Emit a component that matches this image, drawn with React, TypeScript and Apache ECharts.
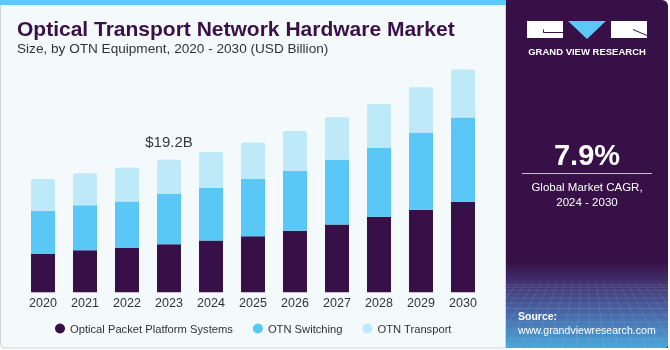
import React, { useEffect, useRef } from "react";
import * as echarts from "echarts";

const years = ["2020", "2021", "2022", "2023", "2024", "2025", "2026", "2027", "2028", "2029", "2030"];
const packetPlatform = [5.6, 6.1, 6.4, 6.95, 7.5, 8.1, 8.9, 9.8, 10.95, 11.95, 13.1];
const otnSwitching = [6.2, 6.5, 6.75, 7.3, 7.6, 8.3, 8.7, 9.4, 9.95, 11.1, 12.2];
const otnTransport = [4.6, 4.65, 4.9, 4.95, 5.2, 5.3, 5.75, 6.15, 6.35, 6.65, 6.95];
const seriesNames = ["Optical Packet Platform Systems", "OTN Switching", "OTN Transport"];
const labelIndex = 3;

const DARK = "#371047";
const BLUE = "#5ac8f6";
const LIGHT = "#bde9f9";
const FONT = "'Liberation Sans', Arial, sans-serif";

function gridDecor() {
  const els: any[] = [];
  const hy = [285, 287.5, 290.5, 294, 298, 303, 308.5, 315, 322, 330, 339];
  hy.forEach((y) =>
    els.push({
      type: "line",
      z: -7,
      silent: true,
      shape: { x1: 506, y1: y, x2: 668, y2: y },
      style: { stroke: "rgba(255,255,255,0.16)", lineWidth: 0.6 },
    })
  );
  const px = 587, py = 200, top = 283, bottom = 348;
  for (let xb = 380; xb <= 800; xb += 14) {
    const t = (top - py) / (bottom - py);
    const xt = px + (xb - px) * t;
    els.push({
      type: "line",
      z: -7,
      silent: true,
      shape: { x1: xt, y1: top, x2: xb, y2: bottom },
      style: { stroke: "rgba(255,255,255,0.16)", lineWidth: 0.6 },
    });
  }
  return {
    type: "group",
    z: -7,
    clipPath: { type: "rect", shape: { x: 506, y: 262, width: 162, height: 86 } },
    children: els,
  } as any;
}

export default function App() {
  const ref = useRef<HTMLDivElement>(null);

  useEffect(() => {
    if (!ref.current) return;
    const chart = echarts.init(ref.current, undefined, { renderer: "svg" });
    const total = packetPlatform[labelIndex] + otnSwitching[labelIndex] + otnTransport[labelIndex];
    const transportData = otnTransport.map((v, i) =>
      i === labelIndex
        ? {
            value: v,
            label: {
              show: true,
              position: "top",
              distance: 11,
              formatter: `$${total.toFixed(1)}B`,
              fontSize: 15,
              color: "#3a3a3a",
              fontFamily: FONT,
            },
          }
        : v
    );

    chart.setOption({
      animation: false,
      textStyle: { fontFamily: FONT },
      grid: { left: 22, width: 462, top: 50.6, height: 241.7 },
      xAxis: {
        type: "category",
        data: years,
        axisLine: { show: false },
        axisTick: { show: false },
        axisLabel: { color: "#333", fontSize: 12.5, margin: 4, fontFamily: FONT },
      },
      yAxis: { type: "value", min: 0, max: 35, show: false, splitLine: { show: false } },
      legend: {
        left: 50,
        top: 318,
        icon: "circle",
        itemWidth: 10,
        itemHeight: 10,
        itemGap: 20,
        textStyle: { color: "#333", fontSize: 11.2, fontFamily: FONT },
        data: seriesNames,
      },
      series: [
        {
          name: seriesNames[0],
          type: "bar",
          stack: "total",
          barWidth: 24,
          data: packetPlatform,
          itemStyle: { color: DARK },
        },
        {
          name: seriesNames[1],
          type: "bar",
          stack: "total",
          barWidth: 24,
          data: otnSwitching,
          itemStyle: { color: BLUE },
        },
        {
          name: seriesNames[2],
          type: "bar",
          stack: "total",
          barWidth: 24,
          data: transportData,
          itemStyle: { color: LIGHT, borderRadius: [2, 2, 0, 0] },
        },
      ],
      graphic: [
        {
          type: "rect",
          z: -10,
          shape: { x: 0.5, y: 0.5, width: 505, height: 347.5, r: [0, 0, 0, 4] },
          style: { fill: "#f4f9fc", stroke: "#cfd4d8", lineWidth: 1 },
        },
        {
          type: "rect",
          z: -9,
          shape: { x: 0, y: 0, width: 506, height: 5 },
          style: { fill: "#5bc8f5" },
        },
        {
          type: "rect",
          z: -9,
          shape: { x: 506, y: 0, width: 162, height: 348, r: [0, 6, 0, 0] },
          style: { fill: DARK },
        },
        {
          type: "rect",
          z: -8,
          shape: { x: 506, y: 262, width: 162, height: 86, r: [0, 0, 3, 0] },
          style: {
            fill: new echarts.graphic.LinearGradient(0, 0, 0, 1, [
              { offset: 0, color: DARK },
              { offset: 0.25, color: "#433471" },
              { offset: 0.6, color: "#4868a8" },
              { offset: 1, color: "#49a7da" },
            ]),
          },
        },
        gridDecor(),
        // logo
        {
          type: "rect",
          z: -5,
          shape: { x: 527, y: 21, width: 36, height: 17 },
          style: { fill: "#ffffff" },
        },
        {
          type: "polyline",
          z: -4,
          shape: { points: [[543.5, 29.5], [543.5, 32.5], [563, 32.5]] },
          style: { stroke: DARK, lineWidth: 1, fill: null },
        },
        {
          type: "polygon",
          z: -5,
          shape: { points: [[568, 21], [606, 21], [587, 39]] },
          style: { fill: "#5bc8f5" },
        },
        {
          type: "rect",
          z: -5,
          shape: { x: 611, y: 21, width: 36, height: 17 },
          style: { fill: "#ffffff" },
        },
        {
          type: "line",
          z: -4,
          shape: { x1: 633, y1: 29.5, x2: 647, y2: 35.5 },
          style: { stroke: DARK, lineWidth: 1 },
        },
        {
          type: "text",
          z: -4,
          x: 587,
          y: 51,
          style: {
            text: "GRAND VIEW RESEARCH",
            fill: "#ffffff",
            font: `bold 9.5px ${FONT}`,
            align: "center",
            verticalAlign: "middle",
          },
        },
        // CAGR
        {
          type: "text",
          z: -4,
          x: 587,
          y: 155,
          style: {
            text: "7.9%",
            fill: "#ffffff",
            font: `bold 29px ${FONT}`,
            align: "center",
            verticalAlign: "middle",
          },
        },
        {
          type: "line",
          z: -4,
          shape: { x1: 522, y1: 173.5, x2: 652, y2: 173.5 },
          style: { stroke: "#c9bfd3", lineWidth: 1 },
        },
        {
          type: "text",
          z: -4,
          x: 587,
          y: 187,
          style: {
            text: "Global Market CAGR,",
            fill: "#ffffff",
            font: `11.5px ${FONT}`,
            align: "center",
            verticalAlign: "middle",
          },
        },
        {
          type: "text",
          z: -4,
          x: 587,
          y: 201.5,
          style: {
            text: "2024 - 2030",
            fill: "#ffffff",
            font: `11.5px ${FONT}`,
            align: "center",
            verticalAlign: "middle",
          },
        },
        // Source
        {
          type: "text",
          z: -4,
          x: 518,
          y: 316,
          style: {
            text: "Source:",
            fill: "#ffffff",
            font: `bold 10.5px ${FONT}`,
            align: "left",
            verticalAlign: "middle",
          },
        },
        {
          type: "text",
          z: -4,
          x: 518,
          y: 329.5,
          style: {
            text: "www.grandviewresearch.com",
            fill: "#ffffff",
            font: `10.6px ${FONT}`,
            align: "left",
            verticalAlign: "middle",
          },
        },
        // Titles
        {
          type: "text",
          z: -4,
          x: 17,
          y: 28,
          style: {
            text: "Optical Transport Network Hardware Market",
            fill: "#3a1048",
            font: `bold 21px ${FONT}`,
            align: "left",
            verticalAlign: "middle",
          },
        },
        {
          type: "text",
          z: -4,
          x: 17,
          y: 48.5,
          style: {
            text: "Size, by OTN Equipment, 2020 - 2030 (USD Billion)",
            fill: "#333333",
            font: `13.6px ${FONT}`,
            align: "left",
            verticalAlign: "middle",
          },
        },
      ],
    });

    return () => chart.dispose();
  }, []);

  return (
    <div
      ref={ref}
      style={{ position: "fixed", left: 0, top: 0, width: 670, height: 350 }}
    />
  );
}
